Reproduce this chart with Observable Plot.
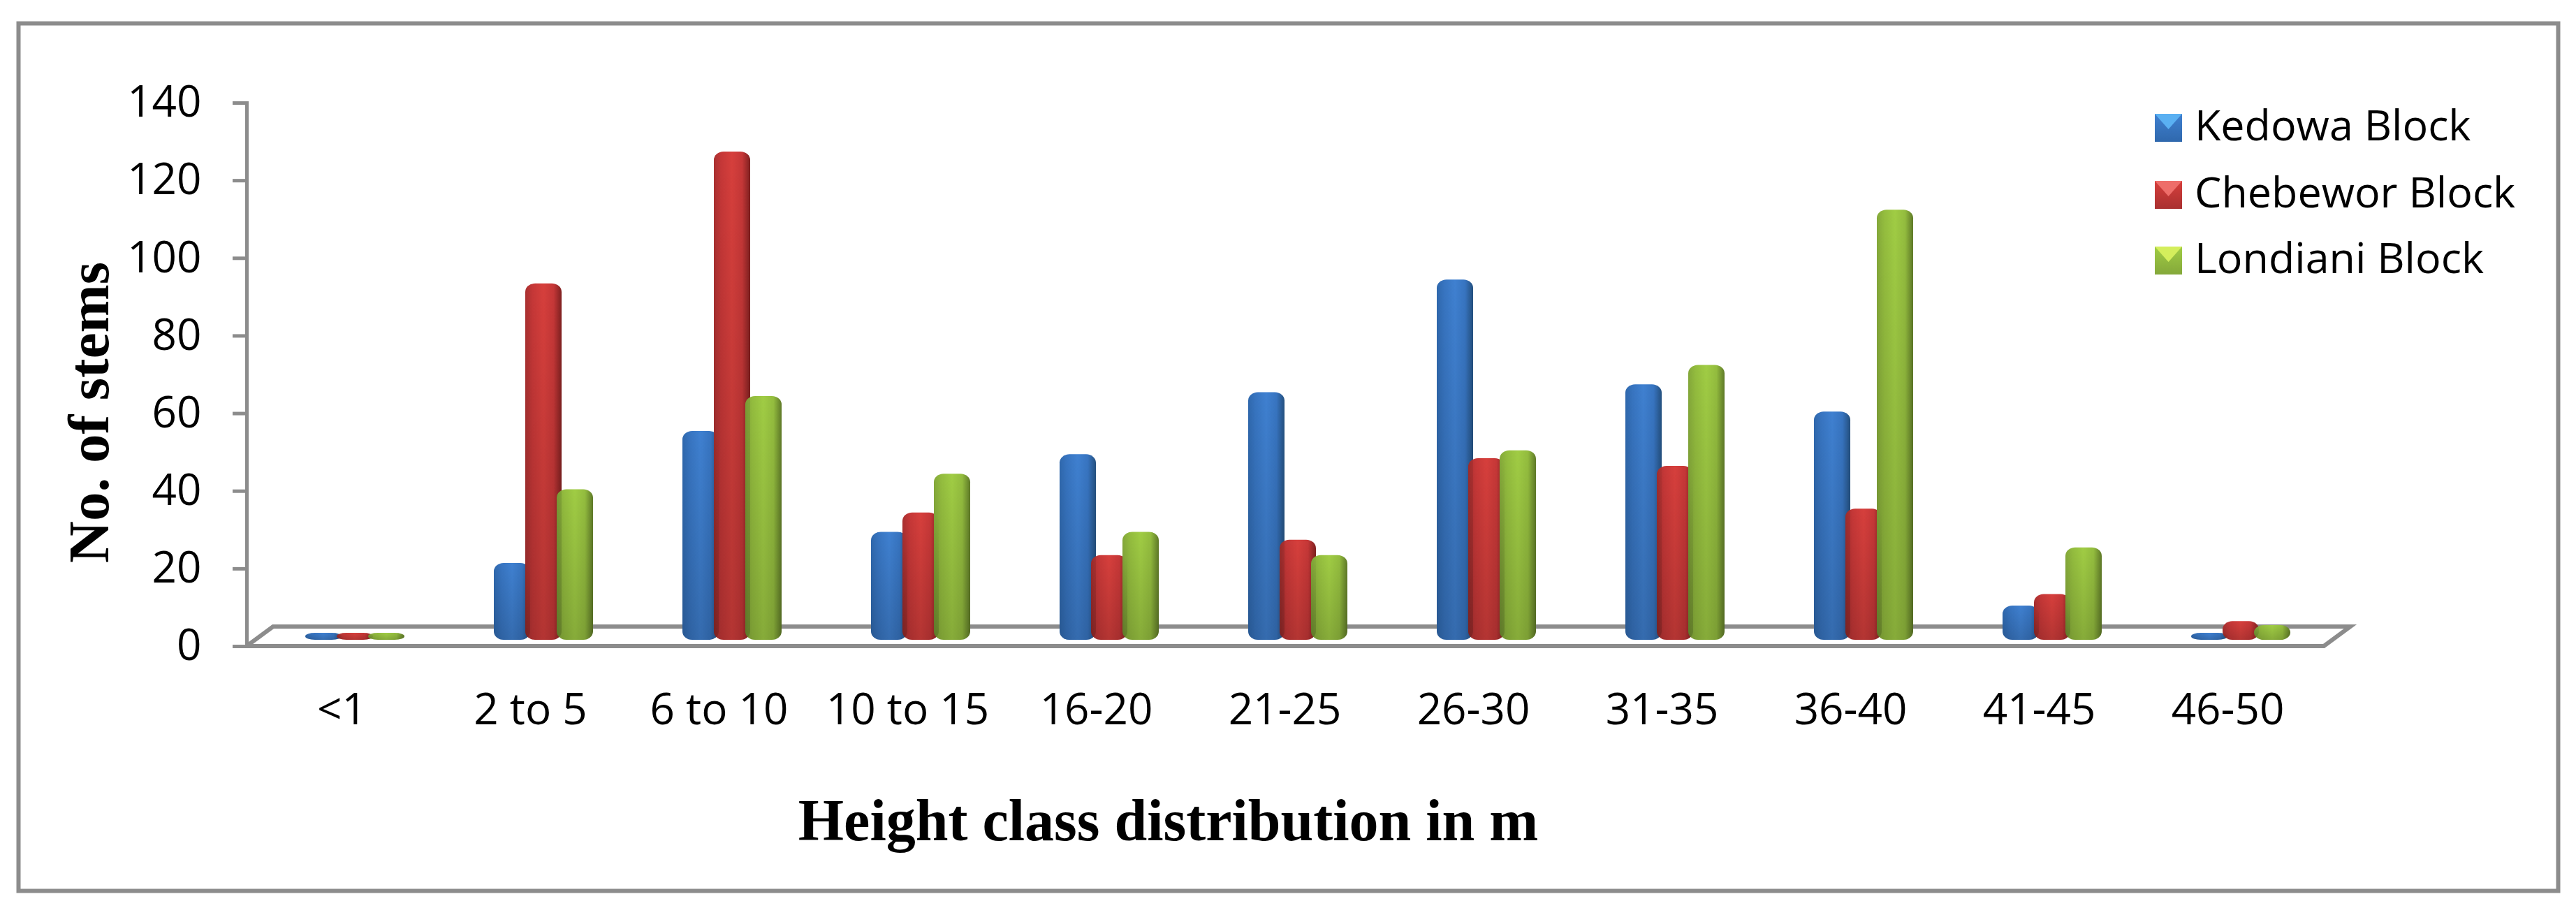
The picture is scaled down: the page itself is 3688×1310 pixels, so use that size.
<!DOCTYPE html>
<html>
<head>
<meta charset="utf-8">
<script src="https://cdn.jsdelivr.net/npm/d3@7"></script>
<script src="https://cdn.jsdelivr.net/npm/@observablehq/plot@0.6"></script>
<style>
  html, body { margin: 0; padding: 0; background: #fff; }
  #wrap { position: relative; width: 3688px; height: 1310px; overflow: hidden; }
  #legend { position: absolute; left: 3085px; top: 150px; font: 61px "Open Sans", sans-serif; color: #000; }
  .row { position: absolute; left: 0; white-space: nowrap; height: 40px; }
  .sw { position: absolute; left: 0; top: 0; width: 39px; height: 40px; }
  .tri { position: absolute; left: 0; top: 0; width: 39px; height: 22px; clip-path: polygon(0 0, 100% 0, 50% 100%); }
  .lb { position: absolute; left: 57px; top: -26px; line-height: 82px; }
</style>
</head>
<body>
<div id="wrap"><div id="legend"></div></div>
<script>
const categories = ["<1","2 to 5","6 to 10","10 to 15","16-20","21-25","26-30","31-35","36-40","41-45","46-50"];
const seriesNames = ["Kedowa Block","Chebewor Block","Londiani Block"];
const kedowa   = [0, 18, 52, 26, 46, 62, 91, 64, 57, 7, 0];
const chebewor = [0, 90, 124, 31, 20, 24, 45, 43, 32, 10, 3];
const londiani = [0, 37, 61, 41, 26, 20, 47, 69, 109, 22, 2];
const yTicks = [0,20,40,60,80,100,120,140];
const yTitle = "No. of stems";
const xTitle = "Height class distribution in m";
const gray = "#8c8c8c";
// dark edge, light centre, dark side, mid tone
const shades = [
  ["#2f68ad","#3f80d0","#24507f","#3774c0"],
  ["#a93030","#d63f3c","#7f2020","#c53737"],
  ["#84a83a","#a0cc44","#5f7a28","#93bc3e"]
];
const highlights = ["#5ab0f2","#ee6e6a","#d4ee5c"];
const gradIds = ["gradK","gradC","gradL"];

const rows = [kedowa, chebewor, londiani].flatMap((vals, s) =>
  vals.map((v, i) => ({category: categories[i], series: seriesNames[s], value: v})));

const barGeometry = {fx: "category", x: "series", y: "value", dy: -9, dx: -4, insetTop: -10, insetRight: -7, rx: 14, ry: 12};

const chart = Plot.plot({
  width: 3688,
  height: 1310,
  marginLeft: 372,
  marginRight: 345,
  marginTop: 147,
  marginBottom: 385,
  style: {fontFamily: "'Open Sans', sans-serif", background: "#fff", color: "#000"},
  fx: {domain: categories, padding: 0, label: null},
  x: {domain: seriesNames, paddingInner: 0, paddingOuter: 1.5, axis: null},
  y: {domain: [0, 140], label: null},
  color: {domain: seriesNames, range: gradIds.map(id => `url(#${id})`)},
  marks: [
    Plot.frame({facet: "super", stroke: gray, strokeWidth: 6, insetLeft: -347, insetRight: -319, insetTop: -114, insetBottom: -350}),
    Plot.frame({facet: "super", anchor: "left", stroke: gray, strokeWidth: 5, insetLeft: -20}),
    Plot.frame({facet: "super", stroke: "none", render(index, scales, values, dims) {
      const y0 = scales.y(0), xl = dims.marginLeft - 20, xr = dims.width - dims.marginRight - 16;
      const dx = 38, dy = 28;
      return d3.create("svg:path")
        .attr("d", `M${xl},${y0}L${xr},${y0}L${xr + dx},${y0 - dy}L${xl + dx},${y0 - dy}Z`)
        .attr("fill", "none").attr("stroke", gray).attr("stroke-width", 6)
        .node();
    }}),
    Plot.axisY({ticks: yTicks, dx: -20, tickSize: 20, tickPadding: 45, stroke: gray, strokeWidth: 5, fontSize: 62, fill: "#000", label: null, anchor: "left", tickFormat: d => String(d)}),
    Plot.axisFx({anchor: "bottom", tickSize: 0, tickPadding: 67, fontSize: 62, fill: "#000", dx: -19, label: null}),
    Plot.barY(rows, {...barGeometry, fill: "series"}),
    Plot.barY(rows, {...barGeometry, fill: "url(#shadeV)"}),
    Plot.text([yTitle], {
      facet: "super", text: d => d, frameAnchor: "left", textAnchor: "middle", rotate: -90, dx: -219, dy: 54,
      lineAnchor: "bottom", fontSize: 83, fontWeight: "bold", fontFamily: "'Liberation Serif', serif", fill: "#000"
    }),
    Plot.text([xTitle], {
      facet: "super", text: d => d, frameAnchor: "bottom", dx: -186, dy: 277,
      lineAnchor: "bottom", fontSize: 84, fontWeight: "bold", fontFamily: "'Liberation Serif', serif", fill: "#000"
    })
  ]
});

const defs = d3.select(chart).append("defs");
gradIds.forEach((id, i) => {
  const g = defs.append("linearGradient").attr("id", id).attr("x1", 0).attr("x2", 1).attr("y1", 0).attr("y2", 0);
  [[0, shades[i][0]], [0.2, shades[i][3]], [0.5, shades[i][1]], [0.78, shades[i][3]], [1, shades[i][2]]]
    .forEach(([o, c]) => g.append("stop").attr("offset", o).attr("stop-color", c));
});
const shadeV = defs.append("linearGradient").attr("id", "shadeV").attr("x1", 0).attr("x2", 0).attr("y1", 0).attr("y2", 1);
[[0, "#000", 0], [1, "#000", 0.16]].forEach(([o, c, a]) =>
  shadeV.append("stop").attr("offset", o).attr("stop-color", c).attr("stop-opacity", a));
document.getElementById("wrap").prepend(chart);

const rowTops = [13, 109, 203];
const legend = d3.select("#legend");
seriesNames.forEach((name, i) => {
  const r = legend.append("div").attr("class", "row").style("top", rowTops[i] + "px");
  const sw = r.append("div").attr("class", "sw")
    .style("background", `linear-gradient(180deg, ${shades[i][1]}, ${shades[i][0]})`);
  sw.append("div").attr("class", "tri").style("background", highlights[i]);
  r.append("div").attr("class", "lb").text(name);
});
</script>
</body>
</html>
